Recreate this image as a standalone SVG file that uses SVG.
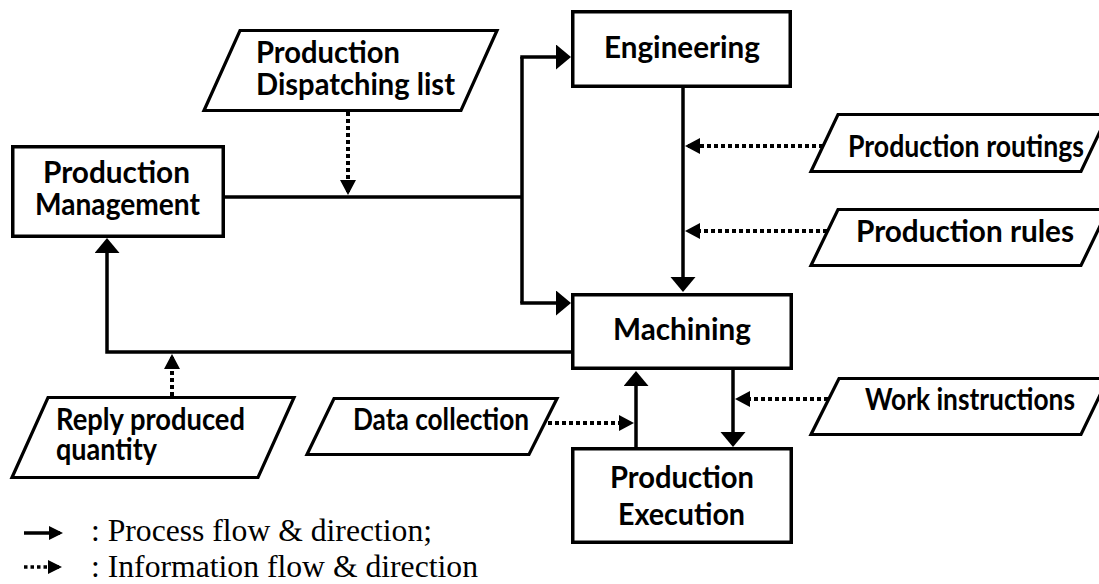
<svg xmlns="http://www.w3.org/2000/svg" width="1099" height="584" viewBox="0 0 1099 584">
<style>
.box{fill:#fff;stroke:#000;stroke-width:3.5}
.para{fill:#fff;stroke:#000;stroke-width:3.2;stroke-linejoin:miter}
.lbl{font-family:Lato,"Liberation Sans",sans-serif;font-weight:700;font-size:30px;fill:#000}
.leg{font-family:"Liberation Serif","Times New Roman",serif;font-size:32px;fill:#000}
.flow{fill:none;stroke:#000;stroke-width:3.5}
.info{fill:none;stroke:#000;stroke-width:4;stroke-dasharray:4 3}
</style>
<defs>
<marker id="ah" markerUnits="userSpaceOnUse" markerWidth="16" markerHeight="26" refX="12" refY="12.5" orient="auto">
<path d="M0,0 L15,12.5 L0,25 Z" fill="#000"/>
</marker>
<marker id="ai" markerUnits="userSpaceOnUse" markerWidth="16" markerHeight="17" refX="12" refY="8" orient="auto">
<path d="M0,0 L15,8 L0,16 Z" fill="#000"/>
</marker>
<marker id="al" markerUnits="userSpaceOnUse" markerWidth="15" markerHeight="15" refX="11" refY="7" orient="auto">
<path d="M0,0 L14,7 L0,14 Z" fill="#000"/>
</marker>
</defs>
<rect width="1099" height="584" fill="#fff"/>

<g id="connectors">
<path class="flow" d="M225,197 H522"/>
<path class="flow" d="M522,303 V57"/>
<path class="flow" d="M520.25,57 H568" marker-end="url(#ah)"/>
<path class="flow" d="M520.25,303 H568" marker-end="url(#ah)"/>
<path class="flow" d="M683,88 V289" marker-end="url(#ah)"/>
<path class="flow" d="M733,370 V444" marker-end="url(#ah)"/>
<path class="flow" d="M636,447 V374" marker-end="url(#ah)"/>
<path class="flow" d="M571,352 H107 V241" marker-end="url(#ah)"/>
<path class="info" d="M348,112 V192" marker-end="url(#ai)"/>
<path class="info" d="M823,146 H688" marker-end="url(#ai)"/>
<path class="info" d="M827,231 H688" marker-end="url(#ai)"/>
<path class="info" d="M828,399 H738" marker-end="url(#ai)"/>
<path class="info" d="M548,423 H631" marker-end="url(#ai)"/>
<path class="info" d="M172,396 V357" marker-end="url(#ai)"/>
</g>

<g id="production-management">
<rect class="box" x="12.75" y="146.75" width="210.5" height="89.5"/>
<text class="lbl" x="116.5" y="183" text-anchor="middle" textLength="147" lengthAdjust="spacingAndGlyphs">Production</text>
<text class="lbl" x="117.5" y="215" text-anchor="middle" textLength="165" lengthAdjust="spacingAndGlyphs">Management</text>
</g>

<g id="engineering">
<rect class="box" x="572.75" y="11.75" width="217.5" height="74.5"/>
<text class="lbl" x="682" y="58" text-anchor="middle" textLength="156" lengthAdjust="spacingAndGlyphs">Engineering</text>
</g>

<g id="machining">
<rect class="box" x="572.75" y="294.75" width="218.5" height="73.5"/>
<text class="lbl" x="682" y="340" text-anchor="middle" textLength="138" lengthAdjust="spacingAndGlyphs">Machining</text>
</g>

<g id="production-execution">
<rect class="box" x="572.75" y="448.75" width="218.5" height="93.5"/>
<text class="lbl" x="682" y="488" text-anchor="middle" textLength="144" lengthAdjust="spacingAndGlyphs">Production</text>
<text class="lbl" x="681.5" y="525" text-anchor="middle" textLength="127" lengthAdjust="spacingAndGlyphs">Execution</text>
</g>

<g id="dispatching-list">
<polygon class="para" points="240,30.5 497,30.5 461,110.5 204,110.5"/>
<text class="lbl" x="256" y="63" textLength="144" lengthAdjust="spacingAndGlyphs">Production</text>
<text class="lbl" x="256" y="95" textLength="199" lengthAdjust="spacingAndGlyphs">Dispatching list</text>
</g>

<g id="production-routings">
<polygon class="para" points="838,114.5 1108,114.5 1081,171.5 811,171.5"/>
<text class="lbl" x="848" y="157" textLength="236" lengthAdjust="spacingAndGlyphs">Production routings</text>
</g>

<g id="production-rules">
<polygon class="para" points="838,209.5 1108,209.5 1081,265.5 811,265.5"/>
<text class="lbl" x="856" y="242" textLength="218" lengthAdjust="spacingAndGlyphs">Production rules</text>
</g>

<g id="work-instructions">
<polygon class="para" points="839,378.5 1108,378.5 1081,434.5 811,434.5"/>
<text class="lbl" x="865" y="410" textLength="210" lengthAdjust="spacingAndGlyphs">Work instructions</text>
</g>

<g id="data-collection">
<polygon class="para" points="334,398.5 557,398.5 529,454.5 307,454.5"/>
<text class="lbl" x="353" y="430" textLength="176" lengthAdjust="spacingAndGlyphs">Data collection</text>
</g>

<g id="reply-produced-quantity">
<polygon class="para" points="48,397.5 294,397.5 258,477.5 12,477.5"/>
<text class="lbl" x="56" y="430" textLength="189" lengthAdjust="spacingAndGlyphs">Reply produced</text>
<text class="lbl" x="56" y="460" textLength="101" lengthAdjust="spacingAndGlyphs">quantity</text>
</g>

<g id="legend">
<path class="flow" d="M24,533 H60" marker-end="url(#al)" style="stroke-width:3.5"/>
<text class="leg" x="91" y="541" textLength="341" lengthAdjust="spacingAndGlyphs">: Process flow &amp; direction;</text>
<path class="info" d="M24,567 H59" marker-end="url(#al)" style="stroke-width:3.5;stroke-dasharray:3.5 3"/>
<text class="leg" x="91" y="577" textLength="387" lengthAdjust="spacingAndGlyphs">: Information flow &amp; direction</text>
</g>
</svg>
